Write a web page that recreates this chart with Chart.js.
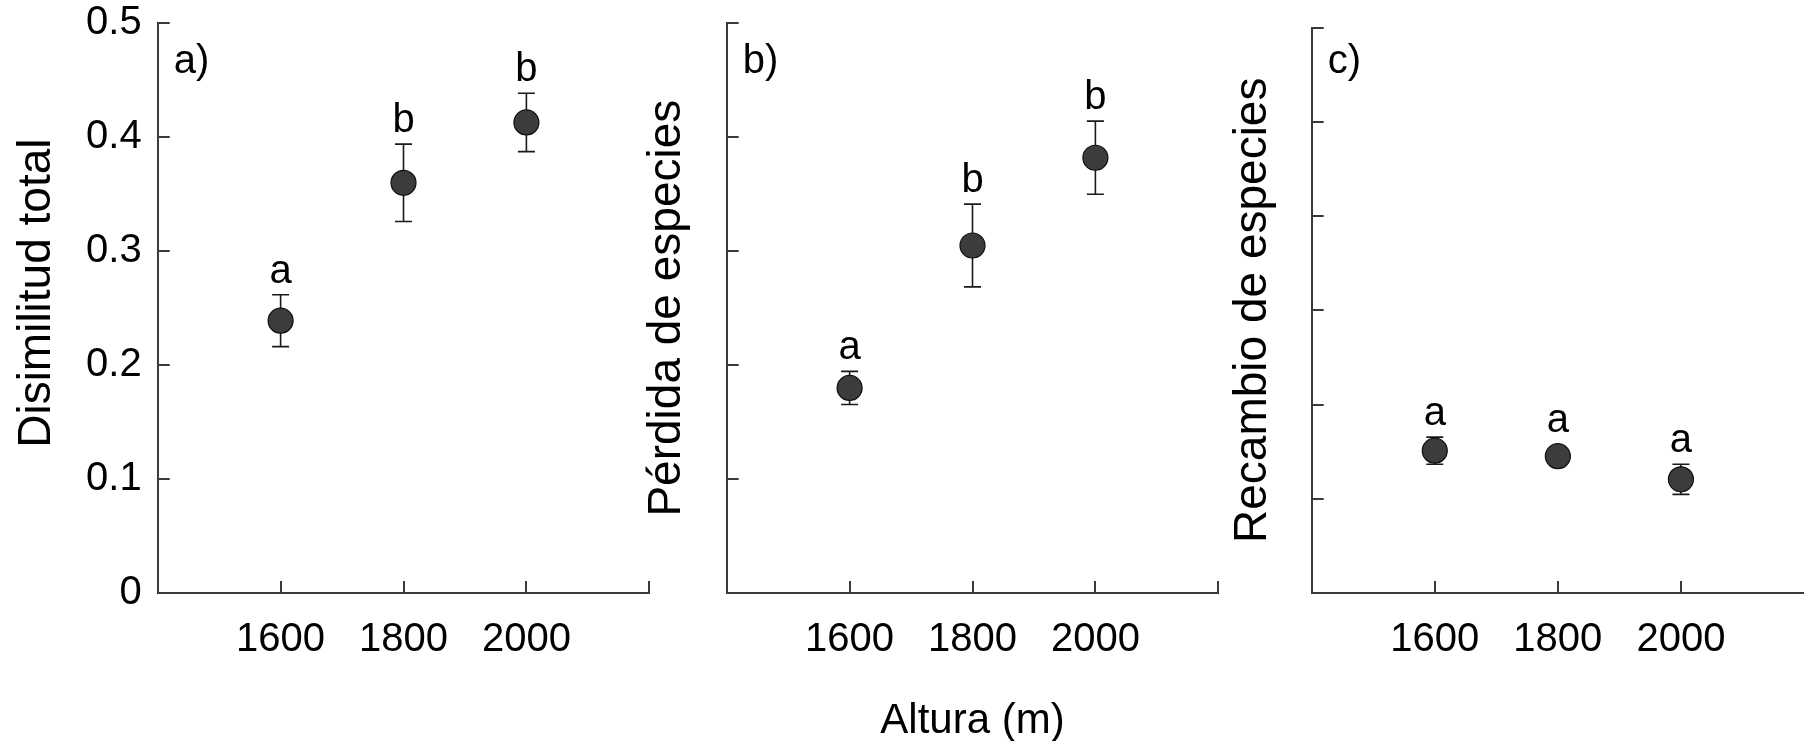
<!DOCTYPE html>
<html><head><meta charset="utf-8">
<script src="https://cdn.jsdelivr.net/npm/chart.js@4.4.1/dist/chart.umd.min.js"></script>
<style>
html,body{margin:0;padding:0;background:#fff;overflow:hidden;width:1804px;height:741px;}
canvas{position:absolute;left:0;top:0;}
</style></head><body>
<canvas id="ca" width="1804" height="800"></canvas>
<canvas id="cb" width="1804" height="800"></canvas>
<canvas id="cc" width="1804" height="800"></canvas>
<script>
// ---- data ----
const altitudes = [1600, 1800, 2000];
const xTickValues = [1600, 1800, 2000, 2200];
const dissimTotal = [0.239, 0.360, 0.413];
const dissimTotalSE = [0.0228, 0.034, 0.0256];
const dissimTotalLetters = ['a', 'b', 'b'];
const speciesLoss = [0.180, 0.305, 0.382];
const speciesLossSE = [0.0145, 0.0363, 0.0321];
const speciesLossLetters = ['a', 'b', 'b'];
const turnover = [0.0755, 0.0726, 0.0603];
const turnoverSE = [0.0072, 0.003, 0.008];
const turnoverLetters = ['a', 'a', 'a'];
const yTicksAB = [0, 0.1, 0.2, 0.3, 0.4, 0.5];
const yTicksC = [0, 0.05, 0.1, 0.15, 0.2, 0.25, 0.3];
const panelLabels = ['a)', 'b)', 'c)'];
const yTitles = ['Disimilitud total', 'Pérdida de especies', 'Recambio de especies'];
const xTitle = 'Altura (m)';

const FONT = "'Liberation Sans', Arial, Helvetica, sans-serif";
const AXIS = '#3a3a3a';

function zeroPad(s){ s.paddingLeft = 0; s.paddingRight = 0; s.paddingTop = 0; s.paddingBottom = 0; }

function makePanel(id, o) {
  const plugin = {
    id: 'extras_' + id,
    beforeDatasetsDraw(chart) {
      const {ctx, scales: {x, y}} = chart;
      ctx.save();
      ctx.strokeStyle = '#1a1a1a';
      ctx.lineWidth = 1.6;
      o.values.forEach((v, i) => {
        const px = x.getPixelForValue(altitudes[i]);
        const t = y.getPixelForValue(v + o.errors[i]);
        const b = y.getPixelForValue(v - o.errors[i]);
        ctx.beginPath();
        ctx.moveTo(px, t); ctx.lineTo(px, b);
        ctx.moveTo(px - 8.5, t); ctx.lineTo(px + 8.5, t);
        ctx.moveTo(px - 8.5, b); ctx.lineTo(px + 8.5, b);
        ctx.stroke();
      });
      ctx.restore();
    },
    afterDatasetsDraw(chart) {
      const {ctx, scales: {x, y}} = chart;
      const ca = chart.chartArea;
      ctx.save();
      ctx.fillStyle = '#000';
      ctx.font = '40px ' + FONT;
      ctx.textAlign = 'center';
      ctx.textBaseline = 'alphabetic';
      o.values.forEach((v, i) => {
        const px = x.getPixelForValue(altitudes[i]);
        const t = Math.min(y.getPixelForValue(v + o.errors[i]), y.getPixelForValue(v) - 12.5);
        ctx.fillText(o.letters[i], px, t - 12);
      });
      // panel label
      ctx.textAlign = 'left';
      ctx.fillText(o.panel, ca.left + 16, 73);
      // y axis title
      ctx.save();
      ctx.font = '46px ' + FONT;
      ctx.textAlign = 'center';
      ctx.textBaseline = 'middle';
      ctx.translate(o.yTitleX, (ca.top + ca.bottom) / 2 + o.yTitleShift);
      ctx.rotate(-Math.PI / 2);
      ctx.fillText(o.yTitle, 0, 0);
      ctx.restore();
      // inward tick marks
      ctx.strokeStyle = AXIS;
      ctx.lineWidth = 2;
      ctx.beginPath();
      y.ticks.forEach(tk => {
        if (tk.value === 0) return;
        const py = Math.round(y.getPixelForValue(tk.value));
        ctx.moveTo(ca.left, py); ctx.lineTo(ca.left + 12, py);
      });
      x.ticks.forEach(tk => {
        const px = Math.round(x.getPixelForValue(tk.value));
        if (px > chart.width - 3) return;
        ctx.moveTo(px, ca.bottom); ctx.lineTo(px, ca.bottom - 12);
      });
      ctx.stroke();
      ctx.restore();
    }
  };

  return new Chart(document.getElementById(id), {
    type: 'scatter',
    data: {
      datasets: [{
        data: o.values.map((v, i) => ({x: altitudes[i], y: v})),
        pointRadius: 12.5,
        pointHoverRadius: 12.5,
        backgroundColor: '#3c3c3c',
        borderColor: '#0f0f0f',
        borderWidth: 1.2,
        clip: false
      }]
    },
    options: {
      responsive: false,
      animation: false,
      events: [],
      devicePixelRatio: 1,
      layout: { padding: o.pad, autoPadding: false },
      plugins: { legend: {display: false}, tooltip: {enabled: false} },
      scales: {
        x: {
          type: 'linear', position: 'bottom', min: 1400, max: 2200,
          afterBuildTicks: s => { s.ticks = xTickValues.map(v => ({value: v})); },
          afterFit: s => { s.height = o.xHeight; zeroPad(s); },
          grid: { display: false, drawTicks: false },
          border: { display: true, color: AXIS, width: 2 },
          ticks: {
            autoSkip: false, maxRotation: 0, padding: 23, color: '#000',
            font: { family: FONT, size: 40 },
            callback: v => (v === 2200 ? '' : String(v))
          },
          title: {
            display: !!o.xTitle, text: o.xTitle || '', color: '#000',
            font: { family: FONT, size: 42 }, padding: {top: 0, bottom: 0}
          }
        },
        y: {
          type: 'linear', position: 'left', min: 0, max: o.yMax,
          afterBuildTicks: s => { s.ticks = o.yTicks.map(v => ({value: v})); },
          afterFit: s => { s.width = o.yWidth; zeroPad(s); },
          grid: { display: false, drawTicks: false },
          border: { display: true, color: AXIS, width: 2 },
          ticks: {
            display: o.yLabels, padding: 16, color: '#000',
            font: { family: FONT, size: 40 },
            callback: v => String(v)
          },
          title: { display: false }
        }
      }
    },
    plugins: [plugin]
  });
}

makePanel('ca', {
  values: dissimTotal, errors: dissimTotalSE, letters: dissimTotalLetters, panel: panelLabels[0],
  yTicks: yTicksAB, yMax: 0.5, yLabels: true, yTitle: yTitles[0], yTitleX: 37, yTitleShift: -15,
  pad: {left: 9, right: 1154.7, top: 23.3, bottom: 53.8}, yWidth: 148.7, xHeight: 153.2
});
makePanel('cb', {
  values: speciesLoss, errors: speciesLossSE, letters: speciesLossLetters, panel: panelLabels[1],
  yTicks: yTicksAB, yMax: 0.5, yLabels: false, yTitle: yTitles[1], yTitleX: 667, yTitleShift: 0,
  xTitle: xTitle,
  pad: {left: 641, right: 585.7, top: 23.3, bottom: 53.8}, yWidth: 85.7, xHeight: 153.2
});
makePanel('cc', {
  values: turnover, errors: turnoverSE, letters: turnoverLetters, panel: panelLabels[2],
  yTicks: yTicksC, yMax: 0.3, yLabels: false, yTitle: yTitles[2], yTitleX: 1253, yTitleShift: 0,
  pad: {left: 1226, right: 0, top: 27.5, bottom: 53.8}, yWidth: 85.7, xHeight: 153.2
});
</script>
</body></html>
